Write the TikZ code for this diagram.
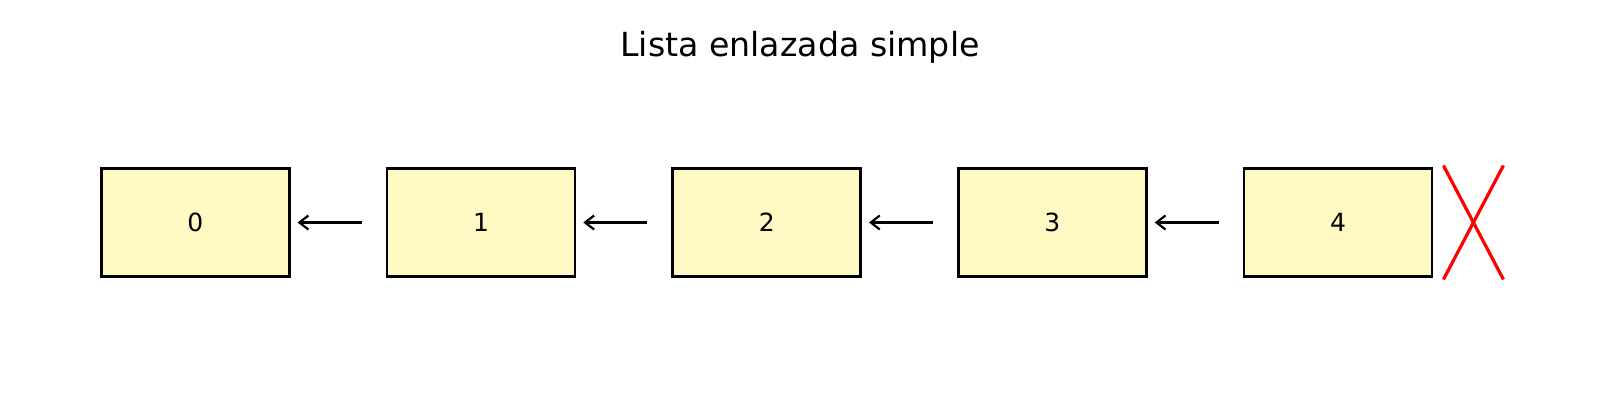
\documentclass[tikz,border=0pt]{standalone}
\usepackage{fontspec}
\setmainfont{DejaVu Sans}
\usetikzlibrary{arrows.meta,positioning}
\definecolor{cellfill}{HTML}{FFF9C4}
\definecolor{nilred}{HTML}{FF0000}

\begin{document}
\begin{tikzpicture}
      [x = 1pt, y = 1pt,
      cell/.style= {
         draw,
         fill = cellfill,
         line width = 2.6pt,
         minimum width = 188pt,
         minimum height = 108pt,
         inner sep = 0pt,
         font = \fontsize{25}{30}\selectfont
      },
      link/.style= {
         -{Straight Barb[length=9pt, width=14pt]},
         line width = 2.2pt,
         shorten < = 24pt,
         shorten > = 7pt
      },
      nil/.style= {
         draw = nilred,
         line width = 3.2pt
      }]

      \useasboundingbox (0, 0) rectangle (1600, 400);

      \node (title) at (800, 353) {\fontsize{33.2}{40}\selectfont Lista enlazada simple};

      \foreach \i in {0,...,4}
         \node[cell] (c\i) at (195.3 + 285.7*\i, 177.5) {\i};

      \foreach \i [count = \j] in {0,...,3}
         \draw[link] (c\j.west) -- (c\i.east);

      \coordinate[right = 40pt of c4] (end);
      \draw[nil] (end) ++(-30, 57) -- ++(60, -114);
      \draw[nil] (end) ++(30, 57) -- ++(-60, -114);

   \end{tikzpicture}
\end{document}
